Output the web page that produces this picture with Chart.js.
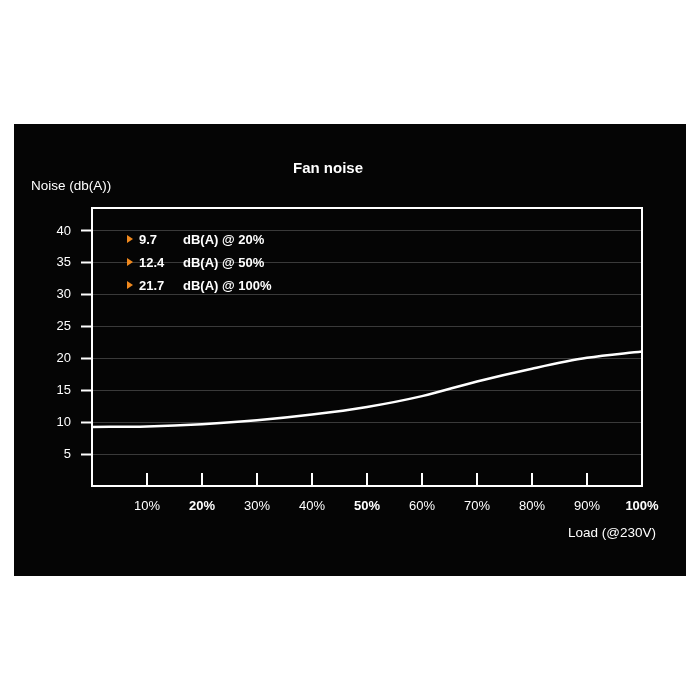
<!DOCTYPE html>
<html>
<head>
<meta charset="utf-8">
<script src="https://cdn.jsdelivr.net/npm/chart.js@4"></script>
<style>
  html, body { margin: 0; padding: 0; background: #fff; }
  #box { position: absolute; left: 14px; top: 124px; width: 672px; height: 452px; background: #050505; }
</style>
</head>
<body>
<div id="box"><canvas id="myChart"></canvas></div>
<script>
// values
const loadPct = [0, 10, 20, 30, 40, 50, 60, 70, 80, 90, 100]
const noiseDb = [9.25, 9.35, 9.7, 10.3, 11.2, 12.4, 14.1, 16.4, 18.4, 20.1, 21.1]
const yTicks = [5, 10, 15, 20, 25, 30, 35, 40]
const xTicks = [10, 20, 30, 40, 50, 60, 70, 80, 90, 100]
const boldLoads = [20, 50, 100]
const noteValues = ['9.7', '12.4', '21.7']
const noteLabels = ['dB(A) @ 20%', 'dB(A) @ 50%', 'dB(A) @ 100%']

const fontFamily = "'Liberation Sans', Arial, Helvetica, sans-serif"

const extras = {
  id: 'extras',
  afterDraw (chart) {
    const ctx = chart.ctx
    const area = chart.chartArea
    const x = chart.scales.x
    ctx.save()
    // inner tick marks on the x axis
    ctx.strokeStyle = '#fff'
    ctx.lineWidth = 2
    xTicks.forEach(v => {
      if (v >= 100) return
      const px = x.getPixelForValue(v)
      ctx.beginPath()
      ctx.moveTo(px, area.bottom)
      ctx.lineTo(px, area.bottom - 13)
      ctx.stroke()
    })
    // frame
    ctx.strokeRect(area.left, area.top, area.right - area.left, area.bottom - area.top)

    // axis captions
    ctx.fillStyle = '#fff'
    ctx.textBaseline = 'middle'
    ctx.font = `13.5px ${fontFamily}`
    ctx.textAlign = 'left'
    ctx.fillText('Noise (db(A))', 17, 62)
    ctx.textAlign = 'right'
    ctx.fillText('Load (@230V)', 642, 409)

    // notes
    ctx.textAlign = 'left'
    ctx.font = `bold 13px ${fontFamily}`
    noteValues.forEach((val, i) => {
      const cy = area.top + 31 + i * 23
      const tx = area.left + 35
      ctx.fillStyle = '#f0891e'
      ctx.beginPath()
      ctx.moveTo(tx, cy - 4)
      ctx.lineTo(tx + 6, cy)
      ctx.lineTo(tx, cy + 4)
      ctx.closePath()
      ctx.fill()
      ctx.fillStyle = '#fff'
      ctx.fillText(val, tx + 12, cy + 1)
      ctx.fillText(noteLabels[i], tx + 56, cy + 1)
    })
    ctx.restore()
  }
}

const ctx = document.getElementById('myChart').getContext('2d')
const chart = new Chart(ctx, {
  type: 'line',
  data: {
    datasets: [{
      data: loadPct.map((v, i) => ({ x: v, y: noiseDb[i] })),
      borderColor: '#fff',
      borderWidth: 2.5,
      pointRadius: 0,
      cubicInterpolationMode: 'monotone',
      fill: false
    }]
  },
  options: {
    responsive: true,
    maintainAspectRatio: false,
    animation: false,
    layout: { padding: { left: 0, right: 44, top: 0, bottom: 0 } },
    plugins: {
      legend: { display: false },
      tooltip: { enabled: false },
      title: {
        display: true,
        text: 'Fan noise',
        color: '#fff',
        font: { family: fontFamily, size: 15, weight: 'bold' },
        padding: { top: 36, bottom: 30 }
      }
    },
    scales: {
      x: {
        type: 'linear',
        min: 0,
        max: 100,
        afterBuildTicks: (scale) => { scale.ticks = xTicks.map(v => ({ value: v })) },
        afterFit: (scale) => { scale.height = 90 },
        border: { display: false },
        grid: { display: false, drawTicks: false },
        ticks: {
          color: '#fff',
          padding: 13,
          maxRotation: 0,
          autoSkip: false,
          font: (c) => ({ family: fontFamily, size: 13, weight: c.tick && boldLoads.includes(c.tick.value) ? 'bold' : 'normal' }),
          callback: (v) => v + '%'
        }
      },
      y: {
        min: 0,
        max: 43.6,
        afterBuildTicks: (scale) => { scale.ticks = yTicks.map(v => ({ value: v })) },
        afterFit: (scale) => { scale.width = 78 },
        border: { display: false },
        grid: {
          color: '#3a3a3a',
          lineWidth: 1,
          tickColor: '#fff',
          tickWidth: 2,
          tickLength: 11
        },
        ticks: {
          color: '#fff',
          padding: 10,
          font: { family: fontFamily, size: 13 }
        }
      }
    }
  },
  plugins: [extras]
})
</script>
</body>
</html>
